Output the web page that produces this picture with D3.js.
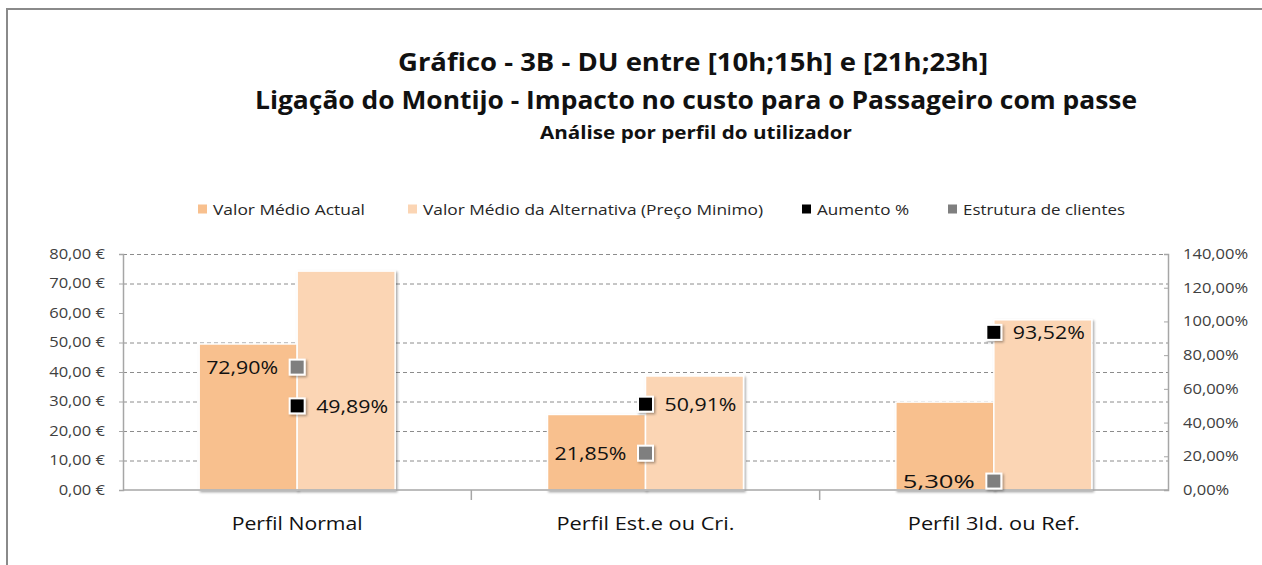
<!DOCTYPE html>
<html>
<head>
<meta charset="utf-8">
<script src="https://cdn.jsdelivr.net/npm/d3@7"></script>
<style>
  body { margin: 0; background: #fff; }
  text { font-family: "Open Sans", sans-serif; }
</style>
</head>
<body>
<script>
// chart data
var categories = ["Perfil Normal", "Perfil Est.e ou Cri.", "Perfil 3Id. ou Ref."];
var valorActual = [49.5, 25.6, 29.8];
var valorAlternativa = [74.2, 38.65, 57.7];
var aumento = [49.89, 50.91, 93.52];
var estrutura = [72.90, 21.85, 5.30];
var leftTicks = [0, 10, 20, 30, 40, 50, 60, 70, 80];
var rightTicks = [0, 20, 40, 60, 80, 100, 120, 140];
var seriesNames = ["Valor Médio Actual", "Valor Médio da Alternativa (Preço Minimo)", "Aumento %", "Estrutura de clientes"];

var W = 1262, H = 565;
var plot = { left: 123, right: 1168, top: 254, bottom: 490 };

var svg = d3.select("body").append("svg")
    .attr("width", W)
    .attr("height", H);

// drop shadow for the markers and bars
var defs = svg.append("defs");
var f = defs.append("filter").attr("id", "shadow").attr("x", "-30%").attr("y", "-30%").attr("width", "170%").attr("height", "170%");
f.append("feDropShadow").attr("dx", 1.5).attr("dy", 1.5).attr("stdDeviation", 1.2).attr("flood-color", "#000").attr("flood-opacity", 0.35);

// outer frame (cut off at right/bottom)
svg.append("rect")
    .attr("x", 7).attr("y", 9)
    .attr("width", W + 20).attr("height", H + 20)
    .attr("fill", "none").attr("stroke", "#8a8a8a").attr("stroke-width", 2);

// fit a text to a width
function fit(sel, w) {
    sel.attr("textLength", w).attr("lengthAdjust", "spacingAndGlyphs");
    return sel;
}

// titles
fit(svg.append("text").attr("x", 693).attr("y", 71).attr("text-anchor", "middle")
    .attr("font-size", 25).attr("font-weight", "bold").attr("fill", "#111")
    .text("Gráfico - 3B - DU entre [10h;15h] e [21h;23h]"), 590);
fit(svg.append("text").attr("x", 696).attr("y", 109).attr("text-anchor", "middle")
    .attr("font-size", 25).attr("font-weight", "bold").attr("fill", "#111")
    .text("Ligação do Montijo - Impacto no custo para o Passageiro com passe"), 882);
fit(svg.append("text").attr("x", 696).attr("y", 139).attr("text-anchor", "middle")
    .attr("font-size", 18).attr("font-weight", "bold").attr("fill", "#111")
    .text("Análise por perfil do utilizador"), 312);

// scales
var x0 = d3.scaleBand().domain(categories).range([plot.left, plot.right]).paddingInner(0).paddingOuter(0);
var yL = d3.scaleLinear().domain([0, 80]).range([plot.bottom, plot.top]);
var yR = d3.scaleLinear().domain([0, 140]).range([plot.bottom, plot.top]);
var barW = 98;

// gridlines (the 60 line is not shown in the original)
svg.append("g").selectAll("line")
    .data(leftTicks.filter(function(d) { return d > 0 && d !== 60; }))
    .enter().append("line")
    .attr("x1", plot.left).attr("x2", plot.right)
    .attr("y1", function(d) { return yL(d) + 0.5; })
    .attr("y2", function(d) { return yL(d) + 0.5; })
    .attr("stroke", "#8c8c8c").attr("stroke-dasharray", "4,3");

// bars
var colors = ["#F8C08E", "#FBD5B4"];
var bars = svg.append("g");
[valorActual, valorAlternativa].forEach(function(vals, s) {
    bars.selectAll(".b" + s)
        .data(vals)
        .enter().append("rect")
        .attr("class", "b" + s)
        .attr("x", function(d, i) { return x0(categories[i]) + x0.bandwidth() / 2 - barW + s * barW; })
        .attr("y", function(d) { return yL(d); })
        .attr("width", barW)
        .attr("height", function(d) { return plot.bottom - yL(d); })
        .attr("fill", colors[s])
        .attr("stroke", "#fff").attr("stroke-width", 1.5)
        .attr("filter", "url(#shadow)");
});

// axes
var axisColor = "#a6a6a6";
var leftAxis = svg.append("g").attr("transform", "translate(" + plot.left + ",0)")
    .call(d3.axisLeft(yL).tickValues(leftTicks).tickSize(4).tickPadding(14)
        .tickFormat(function(d) { return d3.format(".2f")(d).replace(".", ",") + " €"; }));
var rightAxis = svg.append("g").attr("transform", "translate(" + plot.right + ",0)")
    .call(d3.axisRight(yR).tickValues(rightTicks).tickSize(-4).tickPadding(15)
        .tickFormat(function(d) { return d3.format(".2f")(d).replace(".", ",") + "%"; }));
[leftAxis, rightAxis].forEach(function(a) {
    a.select(".domain").attr("stroke", axisColor).attr("stroke-width", 1.5);
    a.selectAll(".tick line").attr("stroke", axisColor);
    a.selectAll(".tick text").attr("font-size", 14).attr("fill", "#404040")
        .attr("font-family", "'Open Sans', sans-serif")
        .each(function() {
            // stretch a little, the original font is wider at this size
            var len = this.getComputedTextLength();
            d3.select(this).attr("textLength", len * 1.18).attr("lengthAdjust", "spacingAndGlyphs");
        });
});

var bottomAxis = svg.append("g").attr("transform", "translate(0," + plot.bottom + ")");
bottomAxis.append("line").attr("x1", plot.left).attr("x2", plot.right)
    .attr("stroke", axisColor).attr("stroke-width", 1.5);
bottomAxis.selectAll(".ctick")
    .data(categories.slice(1))
    .enter().append("line")
    .attr("x1", function(d) { return x0(d); }).attr("x2", function(d) { return x0(d); })
    .attr("y1", 0).attr("y2", 10)
    .attr("stroke", axisColor).attr("stroke-width", 1.5);
var catWidths = [131, 178, 172];
bottomAxis.selectAll(".clabel")
    .data(categories)
    .enter().append("text")
    .attr("x", function(d) { return x0(d) + x0.bandwidth() / 2; })
    .attr("y", 40)
    .attr("text-anchor", "middle")
    .attr("font-size", 18).attr("fill", "#111")
    .attr("textLength", function(d, i) { return catWidths[i]; })
    .attr("lengthAdjust", "spacingAndGlyphs")
    .text(function(d) { return d; });

// markers and labels
function pct(v) { return d3.format(".2f")(v).replace(".", ",") + "%"; }
var mk = 15;
var markerSets = [
    { vals: estrutura, color: "#7f7f7f", side: -1 },
    { vals: aumento, color: "#000000", side: 1 }
];
markerSets.forEach(function(m, s) {
    var g = svg.append("g");
    g.selectAll("rect")
        .data(m.vals)
        .enter().append("rect")
        .attr("x", function(d, i) { return x0(categories[i]) + x0.bandwidth() / 2 - mk / 2; })
        .attr("y", function(d) { return yR(d) - mk / 2; })
        .attr("width", mk).attr("height", mk)
        .attr("fill", m.color)
        .attr("stroke", "#fff").attr("stroke-width", 2)
        .attr("filter", "url(#shadow)");
    g.selectAll("text")
        .data(m.vals)
        .enter().append("text")
        .attr("x", function(d, i) { return x0(categories[i]) + x0.bandwidth() / 2 + m.side * 19; })
        .attr("y", function(d) { return yR(d) + 7; })
        .attr("text-anchor", m.side < 0 ? "end" : "start")
        .attr("font-size", 19).attr("fill", "#111")
        .attr("textLength", 72).attr("lengthAdjust", "spacingAndGlyphs")
        .text(function(d) { return pct(d); });
});

// legend
var legendX = [198, 408, 802, 948];
var legendW = [152, 340, 92, 162];
var legendColors = ["#F8C08E", "#FBD5B4", "#000000", "#7f7f7f"];
var lg = svg.selectAll(".legend")
    .data(seriesNames)
    .enter().append("g")
    .attr("class", "legend")
    .attr("transform", function(d, i) { return "translate(" + legendX[i] + ",209)"; });
lg.append("rect")
    .attr("x", 0).attr("y", -4.5)
    .attr("width", 9).attr("height", 9)
    .attr("fill", function(d, i) { return legendColors[i]; });
lg.append("text")
    .attr("x", 15).attr("y", 5.5)
    .attr("font-size", 15).attr("fill", "#262626")
    .attr("textLength", function(d, i) { return legendW[i]; })
    .attr("lengthAdjust", "spacingAndGlyphs")
    .text(function(d) { return d; });
</script>
</body>
</html>
